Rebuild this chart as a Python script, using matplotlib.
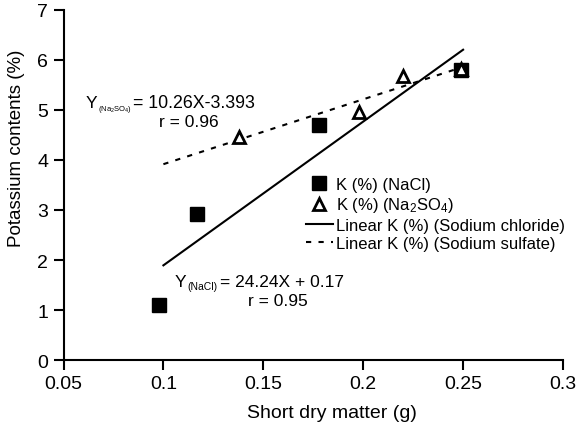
import numpy as np
import matplotlib
matplotlib.use("Agg")
import matplotlib.pyplot as plt

plt.rcParams['font.family'] = ['Liberation Sans', 'DejaVu Sans']
plt.rcParams['mathtext.fontset'] = 'custom'
plt.rcParams['mathtext.rm'] = 'Liberation Sans'
plt.rcParams['mathtext.it'] = 'Liberation Sans'

# data
nacl_x = [0.098, 0.117, 0.178, 0.249]
nacl_y = [1.10, 2.92, 4.70, 5.81]
na2so4_x = [0.138, 0.198, 0.220, 0.249]
na2so4_y = [4.46, 4.96, 5.68, 5.82]
trend_x = [0.10, 0.25]

xticks = [0.05, 0.1, 0.15, 0.2, 0.25, 0.3]
xticklabels = ["0.05", "0.1", "0.15", "0.2", "0.25", "0.3"]
yticks = [0, 1, 2, 3, 4, 5, 6, 7]

fig = plt.figure(figsize=(5.76, 4.27), dpi=100)
ax = fig.add_axes([63.5 / 576, 1 - 361 / 427, (563 - 63.5) / 576, 350 / 427])

# linear trendlines of each series
k1 = np.polyfit(nacl_x, nacl_y, 1)
k2 = np.polyfit(na2so4_x, na2so4_y, 1)
tx = np.array(trend_x)

ax.plot(nacl_x, nacl_y, linestyle='none', marker='s', markersize=10,
        color='black', label='K (%) (NaCl)', zorder=3)
ax.plot(na2so4_x, na2so4_y, linestyle='none', marker='^', markersize=8,
        markerfacecolor='white', markeredgecolor='black', markeredgewidth=2,
        label='K (%) (Na$_2$SO$_4$)', zorder=4)
ax.plot(tx, np.polyval(k1, tx), color='black', lw=1.5,
        label='Linear K (%) (Sodium chloride)', zorder=2)
ax.plot(tx, np.polyval(k2, tx), color='black', lw=1.5, dashes=(2.5, 3.5),
        label='Linear K (%) (Sodium sulfate)', zorder=2)

ax.set_xlim(0.05, 0.3)
ax.set_ylim(0, 7)
ax.set_xticks(xticks)
ax.set_xticklabels(xticklabels)
ax.set_yticks(yticks)
ax.tick_params(direction='out', length=7, width=1.5, labelsize=14, pad=4)
for side in ['top', 'right']:
    ax.spines[side].set_visible(False)
for side in ['left', 'bottom']:
    ax.spines[side].set_linewidth(1.5)

ax.set_xlabel('Short dry matter (g)', fontsize=14)
ax.set_ylabel('Potassium contents (%)', fontsize=13.5)
ax.xaxis.set_label_coords((332 - 63.5) / 499.5, -0.125)
ax.yaxis.set_label_coords(-0.077, (361 - 148) / 350)

# regression equations, Y + small subscript + rest
eq = dict(ha='left', va='baseline')
ax.text(0.06125, 5.06, 'Y', fontsize=12.5, **eq)
ax.text(0.06725, 5.00, '(Na$_2$SO$_4$)', fontsize=5.5, **eq)
ax.text(0.0850, 5.06, '= 10.26X-3.393', fontsize=12.8, **eq)
ax.text(0.0978, 4.68, 'r = 0.96', fontsize=12.5, **eq)

ax.text(0.10575, 1.48, 'Y', fontsize=12.5, **eq)
ax.text(0.11175, 1.42, '(NaCl)', fontsize=7.5, **eq)
ax.text(0.1285, 1.48, '= 24.24X + 0.17', fontsize=12.5, **eq)
ax.text(0.1422, 1.10, 'r = 0.95', fontsize=12.5, **eq)

ax.legend(loc='upper left', bbox_to_anchor=(306 / 576, 1 - 178 / 427),
          bbox_transform=fig.transFigure, frameon=False, fontsize=12,
          handlelength=1.6, handletextpad=0.2, labelspacing=0.2,
          borderpad=0, borderaxespad=0)

fig.savefig('out.png', dpi=100)
